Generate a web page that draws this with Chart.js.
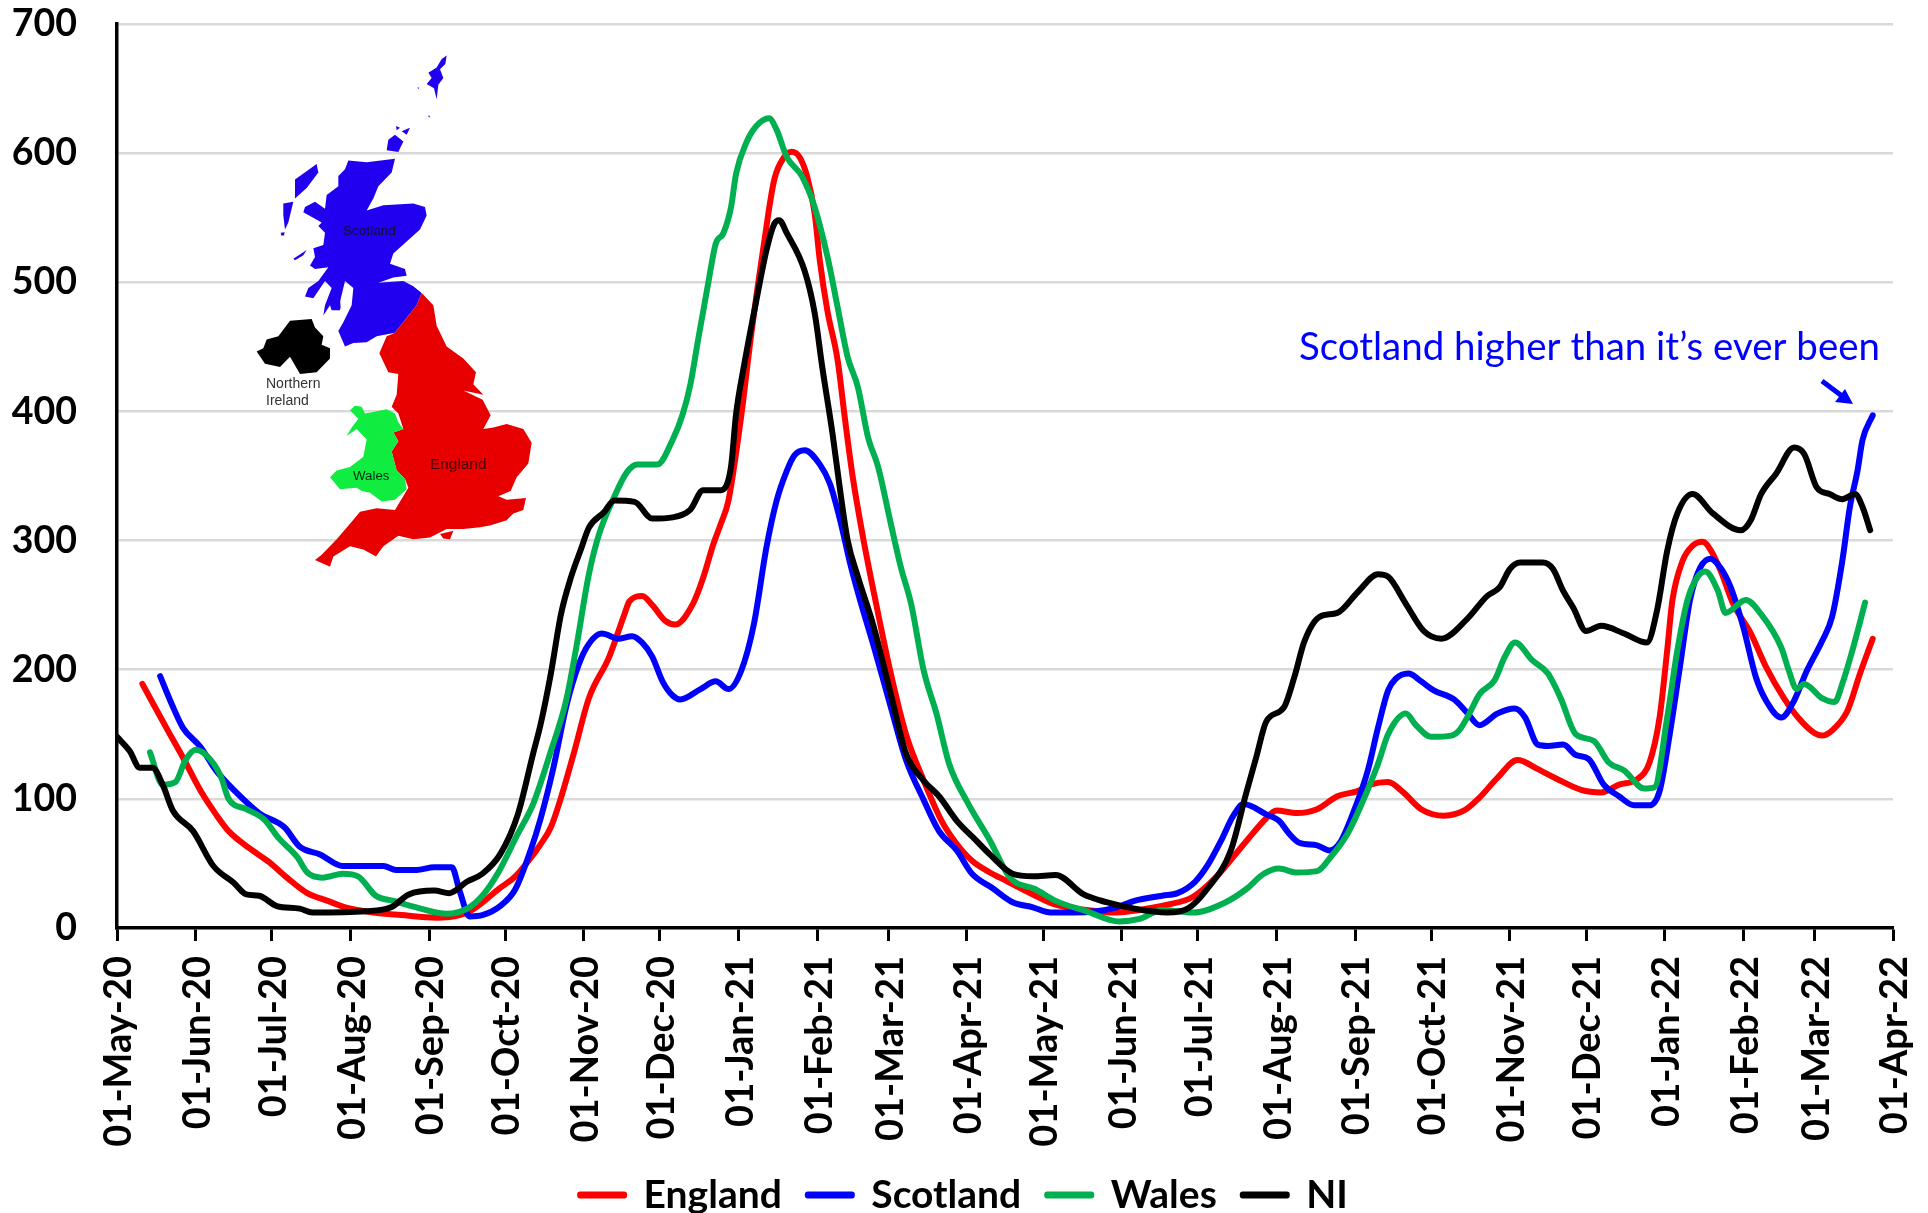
<!DOCTYPE html>
<html>
<head>
<meta charset="utf-8">
<title>UK nations chart</title>
<script src="https://cdn.jsdelivr.net/npm/chart.js@4/dist/chart.umd.min.js"></script>
<style>
html,body{margin:0;padding:0;background:#fff;overflow:hidden}
canvas{display:block}
</style>
</head>
<body>
<canvas id="c" width="1928" height="1213"></canvas>
<script>
// x positions are days since 01-May-20
const tickDays = [0,31,61,92,123,153,184,214,245,276,304,335,365,396,426,457,488,518,549,579,610,641,669,700];
const tickLabels = ['01-May-20','01-Jun-20','01-Jul-20','01-Aug-20','01-Sep-20','01-Oct-20','01-Nov-20','01-Dec-20','01-Jan-21','01-Feb-21','01-Mar-21','01-Apr-21','01-May-21','01-Jun-21','01-Jul-21','01-Aug-21','01-Sep-21','01-Oct-21','01-Nov-21','01-Dec-21','01-Jan-22','01-Feb-22','01-Mar-22','01-Apr-22'];
const yTicks = [0,100,200,300,400,500,600,700];

const englandDays = [10,20,26,33,39,44,52,60,67,75,83,90,101,112,126,133,140,151,157,163,167,171,175,180,186,194,200,202,207,211,216,220,227,231,235,238,241,246,250,255,259,263,266,269,272,275,277,280,284,287,290,294,299,305,311,318,325,331,337,344,348,361,370,382,394,403,414,424,433,445,453,457,465,473,481,489,494,501,507,514,523,531,537,544,552,560,567,577,585,592,599,604,608,611,613,617,621,625,628,632,637,644,650,657,663,669,672,676,682,687,692];
const englandValues = [189,153,132,106,88,75,62,51,39,27,21,16,12,10,8,9,14,31,40,54,65,78,101,135,178,210,243,253,257,250,238,235,251,271,297,313,331,396,460,530,579,597,601,597,582,553,517,478,440,393,349,303,253,197,150,114,83,65,52,43,39,26,18,14,12,14,18,24,39,67,85,91,89,92,102,106,111,113,105,92,87,91,101,116,130,123,116,107,105,111,115,128,163,215,253,284,296,299,293,277,251,228,202,178,162,151,149,153,168,197,224];

const scotlandDays = [17,21,26,33,39,47,56,66,72,80,89,105,110,118,125,132,135,139,144,151,157,163,167,172,177,182,186,191,198,203,207,211,215,219,222,230,236,241,246,251,256,260,264,267,271,277,281,285,289,293,298,305,311,318,324,331,337,345,353,361,368,377,386,394,401,412,418,425,430,435,440,444,453,458,462,466,473,478,482,487,493,497,501,504,509,514,519,527,532,537,544,551,555,560,564,570,575,580,586,592,598,604,608,612,616,620,624,628,632,636,641,646,650,656,661,666,672,676,680,683,686,688,692];
const scotlandValues = [195,176,155,140,122,105,89,78,63,57,48,48,45,45,47,47,29,9,10,17,30,60,85,124,171,204,220,228,224,226,221,210,191,180,177,185,191,185,199,235,295,331,354,366,370,359,344,316,282,253,220,171,130,99,75,60,42,31,20,16,12,12,13,16,21,25,27,36,49,67,87,96,88,83,73,66,64,60,66,88,122,155,184,193,197,191,184,177,167,157,166,170,163,142,141,142,134,131,111,102,95,95,106,150,202,254,279,286,279,264,233,194,176,163,176,199,222,241,284,326,354,378,397];

const walesDays = [13,18,23,27,31,37,41,44,51,58,64,71,75,81,89,95,102,109,118,130,138,144,150,158,164,171,177,181,186,190,196,201,205,213,219,223,226,229,233,236,239,242,244,248,252,257,260,264,270,275,280,284,288,292,296,300,305,309,313,318,323,328,335,344,352,362,370,382,395,403,412,424,437,445,452,458,465,473,478,485,491,497,501,508,512,518,526,529,533,537,543,547,551,558,564,569,575,582,588,594,602,606,611,615,619,623,626,631,634,642,648,656,659,662,665,672,677,680,684,689];
const walesValues = [136,111,113,130,138,130,117,100,92,84,69,55,43,39,42,40,25,21,16,11,15,25,42,73,96,137,176,217,274,305,334,353,359,359,378,398,421,455,499,530,538,558,584,608,621,627,618,597,582,558,520,481,442,419,380,357,313,279,251,199,166,127,98,68,39,30,21,13,5,7,14,12,20,30,42,46,43,44,54,73,98,127,150,166,157,148,149,153,166,181,192,210,221,207,197,178,150,145,128,122,108,109,163,215,254,272,276,261,244,254,243,217,199,185,189,178,175,189,215,252];

const niDays = [0,5,9,14,18,22,30,38,46,51,56,63,72,77,98,108,115,125,131,138,144,151,158,164,167,171,175,179,183,186,192,196,204,211,219,226,231,238,242,244,247,252,256,259,261,264,271,275,278,282,285,288,292,298,305,311,318,324,331,338,344,353,361,370,381,390,401,414,422,430,439,445,449,453,460,464,468,474,481,489,497,501,508,515,522,532,540,545,549,553,562,566,570,574,579,585,594,603,607,611,615,621,629,640,644,648,654,661,665,670,675,680,685,688,691];
const niValues = [148,137,124,124,111,91,75,48,35,26,25,17,15,12,13,16,26,29,27,36,42,57,88,135,158,197,243,272,294,310,322,331,330,317,318,324,339,339,357,398,434,486,525,545,548,538,509,476,434,383,339,300,272,235,181,135,114,102,83,69,57,42,40,41,26,20,15,12,15,31,60,104,132,160,171,194,222,241,244,260,274,272,251,230,224,239,257,264,278,283,283,278,261,248,230,234,228,221,246,292,321,336,321,308,316,336,352,372,367,341,336,332,336,326,308];

const seriesNames = ['England','Scotland','Wales','NI'];
const seriesColors = ['#ff0000','#0000ff','#00b050','#000000'];
const noteText = 'Scotland higher than it\u2019s ever been';

// Hand-traced outline of the inset map
const mapEngland = [[515,735],[550,770],[560,830],[590,890],[640,925],[678,965],[670,1000],[700,1030],[640,1018],[698,1045],[722,1090],[700,1130],[730,1125],[770,1115],[820,1130],[845,1170],[835,1230],[800,1270],[782,1310],[745,1325],[770,1335],[828,1330],[820,1365],[790,1375],[770,1395],[720,1410],[690,1415],[640,1420],[590,1420],[540,1445],[490,1450],[445,1440],[400,1470],[378,1500],[340,1480],[300,1470],[250,1500],[240,1530],[195,1510],[215,1495],[260,1450],[300,1405],[330,1370],[380,1360],[435,1365],[475,1300],[465,1275],[440,1250],[425,1195],[445,1165],[430,1140],[460,1130],[445,1085],[425,1065],[440,1030],[445,970],[415,965],[388,910],[410,860],[435,850],[500,770]];
const mapWight = [[570,1435],[610,1425],[600,1450],[580,1448]];
const mapWales = [[315,1062],[335,1065],[345,1085],[370,1080],[410,1072],[435,1085],[445,1110],[460,1130],[430,1140],[445,1165],[425,1195],[440,1250],[465,1275],[470,1305],[435,1335],[395,1340],[360,1315],[335,1310],[320,1300],[270,1305],[240,1270],[260,1250],[300,1240],[340,1210],[350,1160],[320,1130],[290,1150],[305,1125],[325,1100],[300,1075]];
const mapScotland = [[295,350],[350,355],[435,345],[425,385],[385,425],[370,460],[350,495],[400,480],[490,475],[525,485],[530,510],[510,550],[470,585],[430,620],[420,650],[465,665],[470,685],[430,690],[385,705],[460,700],[490,715],[515,735],[500,770],[435,850],[380,860],[350,878],[310,880],[285,890],[265,845],[280,820],[305,770],[310,720],[285,700],[270,760],[270,785],[245,785],[240,770],[220,800],[225,770],[245,720],[225,700],[190,750],[165,745],[175,720],[205,700],[235,660],[195,665],[180,655],[195,630],[190,605],[220,595],[225,560],[205,540],[215,530],[160,500],[165,485],[195,470],[225,490],[230,450],[265,425],[265,395],[285,375]];
const mapIsles = [
 [[135,405],[200,360],[205,385],[170,430],[135,460]],
 [[100,475],[130,470],[115,530],[105,550],[100,510]],
 [[92,560],[104,558],[102,568],[94,568]],
 [[130,635],[170,610],[160,625],[135,640]],
 [[415,290],[435,275],[460,295],[445,325],[410,320]],
 [[438,250],[450,255],[440,262]],
 [[455,265],[480,255],[470,275]],
 [[535,95],[560,80],[575,55],[590,45],[586,70],[570,85],[580,110],[565,130],[560,172],[552,140],[530,128],[545,110]],
 [[502,138],[507,138],[505,143]],
 [[534,220],[540,220],[538,226]],
 [[248,745],[270,750],[272,780],[252,782]]
];
const mapNI = [[20,905],[40,895],[50,870],[85,860],[120,815],[185,810],[195,835],[220,860],[215,885],[240,895],[240,925],[200,965],[150,970],[120,920],[90,950],[45,940]];

function xy(days, values){ return days.map((d,i)=>({x:d,y:values[i]})); }
function line(i, days, values, order){
  return {label:seriesNames[i],data:xy(days,values),borderColor:seriesColors[i],backgroundColor:seriesColors[i],
    borderWidth:6,pointRadius:0,cubicInterpolationMode:'monotone',borderCapStyle:'round',borderJoinStyle:'round',order:order};
}

const insetPlugin = {
  id:'inset',
  afterLayout(chart){
    chart.legend.top += 11.5; chart.legend.bottom += 11.5;
    chart.scales.x.bottom = chart.height;
  },
  beforeDatasetsDraw(chart){
    const c = chart.ctx;
    c.save();
    c.translate(250,40); c.scale(1/3,1.033/3);
    const poly=(pts,col)=>{c.beginPath();pts.forEach((p,i)=>i?c.lineTo(p[0],p[1]):c.moveTo(p[0],p[1]));c.closePath();c.fillStyle=col;c.fill();};
    mapIsles.forEach(p=>poly(p,'#2000ee'));
    poly(mapScotland,'#2000ee');
    poly(mapEngland,'#e80000');
    poly(mapWight,'#e80000');
    poly(mapWales,'#10ec40');
    poly(mapNI,'#000000');
    c.restore();
    c.save();
    c.textBaseline='middle';
    c.textAlign='left';
    c.fillStyle='#101030'; c.font='13.6px "Liberation Sans"'; c.fillText('Scotland',343,231);
    c.fillStyle='#400000'; c.font='15.4px "Liberation Sans"'; c.fillText('England',430,465);
    c.fillStyle='#003010'; c.font='13.3px "Liberation Sans"'; c.fillText('Wales',353,476);
    c.fillStyle='#333333'; c.font='14px "Liberation Sans"'; c.fillText('Northern',266,384); c.fillText('Ireland',266,401);
    c.restore();
  },
  afterDatasetsDraw(chart){
    const c = chart.ctx;
    c.save();
    c.fillStyle='#0000ff'; c.strokeStyle='#0000ff';
    c.font='38.6px Lato'; c.textAlign='left'; c.textBaseline='middle';
    c.fillText(noteText,1299,348,581);
    c.lineWidth=5;
    c.beginPath(); c.moveTo(1822,381); c.lineTo(1842,396); c.stroke();
    c.beginPath(); c.moveTo(1853,404); c.lineTo(1835,402); c.lineTo(1845,389); c.closePath(); c.fill();
    c.restore();
  }
};

new Chart(document.getElementById('c'),{
  type:'line',
  data:{datasets:[
    line(0,englandDays,englandValues,4),
    line(1,scotlandDays,scotlandValues,3),
    line(2,walesDays,walesValues,2),
    line(3,niDays,niValues,1)
  ]},
  plugins:[insetPlugin],
  options:{
    responsive:false,animation:false,
    layout:{padding:{left:0,right:0,top:24,bottom:0}},
    font:{family:'Lato'},
    plugins:{
      tooltip:{enabled:false},
      legend:{display:true,position:'bottom',
        labels:{boxWidth:44,boxHeight:1,padding:26,color:'#000',sort:(a,b)=>a.datasetIndex-b.datasetIndex,
          font:{family:'Lato',size:39,weight:'bold',lineHeight:1}}}
    },
    scales:{
      x:{type:'linear',min:0,max:700,
        afterFit(s){s.height=210;s.paddingLeft=0;s.paddingRight=35;},
        afterBuildTicks(s){s.ticks=tickDays.map(v=>({value:v}));},
        grid:{drawOnChartArea:false,drawTicks:true,tickLength:13,tickWidth:3,tickColor:'#000'},
        border:{display:true,color:'#000',width:3.5},
        ticks:{autoSkip:false,maxRotation:90,minRotation:90,padding:15,labelOffset:2,color:'#000',
          font:{family:'Lato',size:38,weight:'bold',lineHeight:1},
          callback:v=>tickLabels[tickDays.indexOf(v)]}
      },
      y:{min:0,max:700,
        afterFit(s){s.width=117;s.paddingTop=0;s.paddingBottom=0;},
        afterBuildTicks(s){s.ticks=yTicks.map(v=>({value:v}));},
        grid:{color:ctx=>ctx.tick&&ctx.tick.value===0?'rgba(0,0,0,0)':'#d9d9d9',lineWidth:2.5,drawTicks:false},
        border:{display:true,color:'#000',width:3.5},
        ticks:{padding:40,color:'#000',font:{family:'Lato',size:37.5,weight:'bold',lineHeight:1}}
      }
    }
  }
});
</script>
</body>
</html>
